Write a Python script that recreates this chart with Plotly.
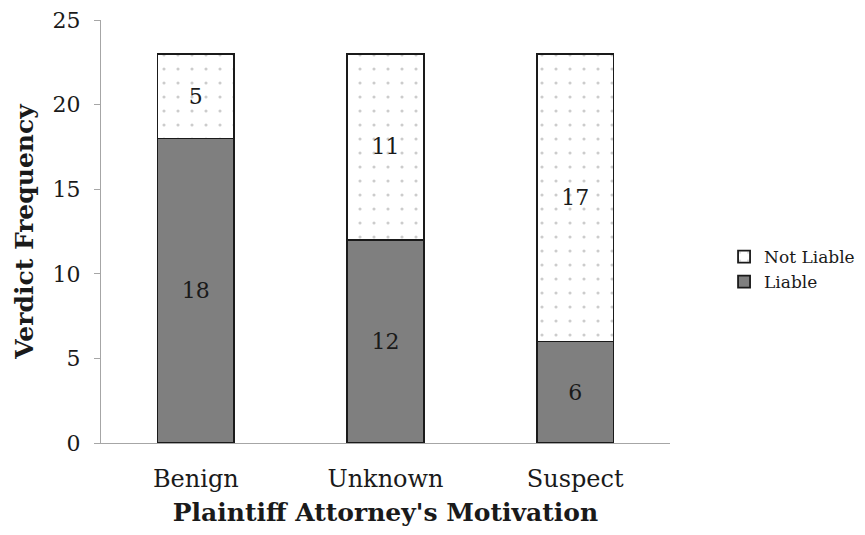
import plotly.graph_objects as go

categories = ["Benign", "Unknown", "Suspect"]
liable = [18, 12, 6]
not_liable = [5, 11, 17]
y_ticks = [0, 5, 10, 15, 20, 25]

FONT = "DejaVu Serif"
INK = "#1a1a1a"

fig = go.Figure()
fig.add_trace(go.Bar(
    x=categories, y=liable, name="Liable",
    marker=dict(color="#7f7f7f", line=dict(color=INK, width=1.8)),
    text=liable, textposition="inside", insidetextanchor="middle",
    textfont=dict(family=FONT, size=22, color=INK),
    width=0.405,
))
fig.add_trace(go.Bar(
    x=categories, y=not_liable, name="Not Liable",
    marker=dict(color="white", line=dict(color=INK, width=1.8),
                pattern=dict(shape=".", fgcolor="#9a9a9a", bgcolor="white",
                             size=14, solidity=0.04)),
    text=not_liable, textposition="inside", insidetextanchor="middle",
    textfont=dict(family=FONT, size=22, color=INK),
    width=0.405,
))

fig.update_layout(
    width=857, height=527,
    barmode="stack",
    plot_bgcolor="white", paper_bgcolor="white",
    margin=dict(l=93, r=195, t=12, b=92, autoexpand=False),
    font=dict(family=FONT, size=20, color=INK),
    showlegend=True,
    legend=dict(
        x=1.095, y=0.41, xanchor="left", yanchor="middle",
        traceorder="reversed", itemwidth=30,
        font=dict(family=FONT, size=17, color=INK),
        bgcolor="rgba(0,0,0,0)", tracegroupgap=6,
    ),
)
fig.update_yaxes(
    range=[0, 25], tickvals=y_ticks, showgrid=False, automargin=False,
    showline=True, linecolor="#a6a6a6", linewidth=1.2,
    ticks="outside", ticklen=6, tickcolor="#a6a6a6",
    tickfont=dict(family=FONT, size=22, color=INK),
    ticklabelstandoff=9, ticklabeloverflow="allow",
    title=dict(text="<b>Verdict Frequency</b>", standoff=11,
               font=dict(family=FONT, size=25, color=INK)),
    zeroline=False,
)
fig.update_xaxes(
    showline=True, linecolor="#a6a6a6", linewidth=1.2, automargin=False,
    ticks="", showgrid=False,
    tickfont=dict(family=FONT, size=24, color=INK),
    ticklabelstandoff=14, ticklabeloverflow="allow",
    title=dict(text="<b>Plaintiff Attorney's Motivation</b>", standoff=11,
               font=dict(family=FONT, size=25, color=INK)),
)

fig.write_html("out.html")
